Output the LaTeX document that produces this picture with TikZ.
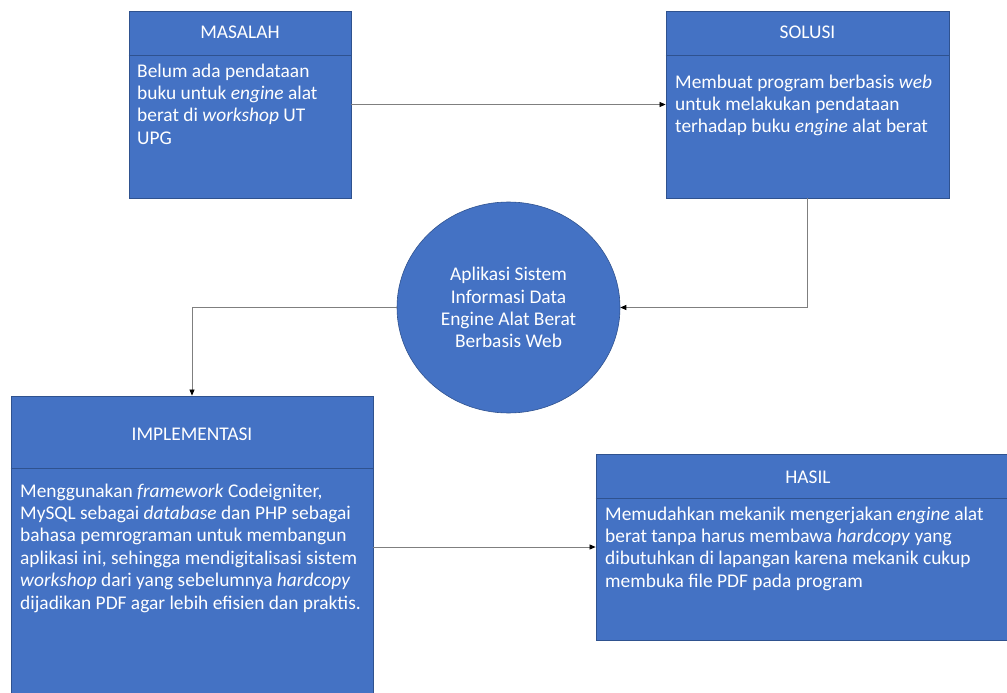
\documentclass[tikz,border=0pt]{standalone}
\usepackage{fontspec}
\setmainfont{Carlito}
\usetikzlibrary{arrows.meta,shapes.geometric}
\definecolor{boxblue}{HTML}{4472C4}
\definecolor{boxedge}{HTML}{2F528F}
\definecolor{conn}{HTML}{7F7F7F}
\begin{document}
\begin{tikzpicture}[x=1pt,y=-1pt,
  box/.style={draw=boxedge, line width=0.8pt, fill=boxblue, inner sep=0pt, rectangle},
  divider/.style={draw=boxedge, line width=0.8pt},
  title/.style={text=white, font=\fontsize{19.4pt}{22.4pt}\selectfont, anchor=base, inner sep=0pt},
  body/.style={text=white, font=\fontsize{19.4pt}{22.4pt}\selectfont, anchor=base west, align=left, inner sep=0pt},
  arr/.style={draw=conn, line width=0.75pt, -{Triangle[length=6pt,width=5pt,color=black]}}]

\useasboundingbox (0,0) rectangle (1007,693);

% boxes
\node[box, minimum width=222pt, minimum height=187pt] (m) at (240,104.5) {};
\draw[divider] (m.north west) ++(0,45) -- ++(222,0);
\node[box, minimum width=283pt, minimum height=187pt] (s) at (807.5,104.5) {};
\draw[divider] (s.north west) ++(0,45) -- ++(283,0);
\node[box, minimum width=362pt, minimum height=304pt] (i) at (192,548) {};
\draw[divider] (i.north west) ++(0,73) -- ++(362,0);
\node[box, minimum width=424pt, minimum height=186pt] (h) at (808,547) {};
\draw[divider] (h.north west) ++(0,45) -- ++(424,0);
\node[ellipse, draw=boxedge, line width=0.6pt, fill=boxblue, minimum width=223pt, minimum height=211pt, inner sep=0pt] (c) at (508.5,307.5) {};

% titles
\node[title] (mh) at (240,39) {MASALAH};
\node[title] (sh) at (807.5,39) {SOLUSI};
\node[title] (ih) at (192,440) {IMPLEMENTASI};
\node[title] (hh) at (808,483) {HASIL};

% body texts (anchored at the baseline of their last line)
\node[body] (mt) at (137,144.2) {Belum ada pendataan\\buku untuk \textit{engine} alat\\berat di \textit{workshop} UT\\UPG};
\node[body] (st) at (675,132.8) {Membuat program berbasis \textit{web}\\untuk melakukan pendataan\\terhadap buku \textit{engine} alat berat};
\node[body] (it) at (20,609) {Menggunakan \textit{framework} Codeigniter,\\MySQL sebagai \textit{database} dan PHP sebagai\\bahasa pemrograman untuk membangun\\aplikasi ini, sehingga mendigitalisasi sistem\\\textit{workshop} dari yang sebelumnya \textit{hardcopy}\\dijadikan PDF agar lebih efisien dan praktis.};
\node[body] (ht) at (605,587.2) {Memudahkan mekanik mengerjakan \textit{engine} alat\\berat tanpa harus membawa \textit{hardcopy} yang\\dibutuhkan di lapangan karena mekanik cukup\\membuka file PDF pada program};
\node[title, align=center] (ct) at (508.5,347.9) {Aplikasi Sistem\\Informasi Data\\Engine Alat Berat\\Berbasis Web};

% connectors
\draw[arr] (m.east) -- (s.west);
\draw[arr] (s.south) |- (c.east);
\draw[arr] (c.west) -| (i.north);
\draw[arr] (i.east |- h.west) -- (h.west);
\end{tikzpicture}
\end{document}
